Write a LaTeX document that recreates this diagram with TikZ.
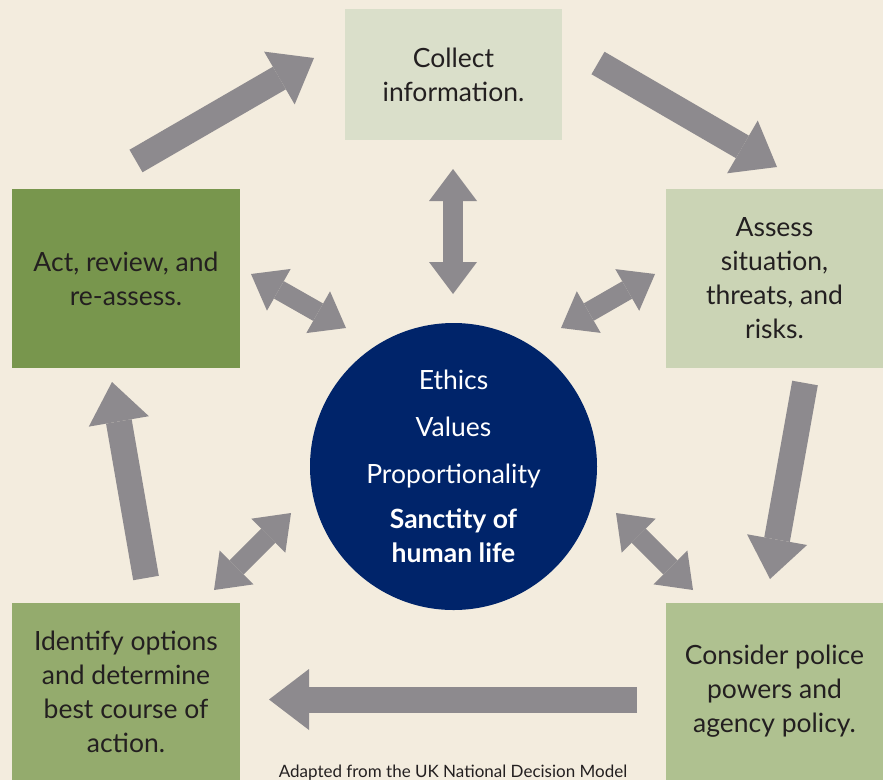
\documentclass[tikz,border=0pt]{standalone}
\usepackage{fontspec}
\setmainfont{Lato}
\usepackage{xcolor}
\usepackage{tikz}
\usetikzlibrary{arrows.meta}

\definecolor{paper}{HTML}{F3ECDE}
\definecolor{ink}{HTML}{231F20}
\definecolor{navy}{HTML}{00246A}
\definecolor{arrowgrey}{HTML}{8D8A8E}
\definecolor{collectgreen}{HTML}{DADFCA}
\definecolor{assessgreen}{HTML}{CBD4B5}
\definecolor{considergreen}{HTML}{AFC190}
\definecolor{identifygreen}{HTML}{94AB6D}
\definecolor{actgreen}{HTML}{78964D}

\begin{document}
\begin{tikzpicture}[x=1pt,y=-1pt,
    stage/.style={rectangle,inner sep=0pt,align=center,text=ink,
      font=\fontsize{26.5}{34}\selectfont},
    flow/.style={draw=arrowgrey,line width=26pt,
      -{Triangle[width=61pt,length=40pt,line width=0pt]}},
    link/.style={draw=arrowgrey,line width=20pt,
      {Triangle[width=48pt,length=32pt,line width=0pt]}-{Triangle[width=48pt,length=32pt,line width=0pt]}}]
  \path[use as bounding box,fill=paper] (0,0) rectangle (883,780);

  % the five steps
  \node[stage,fill=collectgreen,minimum width=217pt,minimum height=131pt] (collect) at (453.5,74.5) {Collect\\information.};
  \node[stage,fill=assessgreen,minimum width=217pt,minimum height=179pt] (assess) at (774.5,278.5) {Assess\\situation,\\threats, and\\risks.};
  \node[stage,fill=considergreen,minimum width=217pt,minimum height=177pt] (consider) at (774.5,691.5) {Consider police\\powers and\\agency policy.};
  \node[stage,fill=identifygreen,minimum width=228pt,minimum height=177pt] (identify) at (126,691.5) {Identify options\\and determine\\best course of\\action.};
  \node[stage,fill=actgreen,minimum width=228pt,minimum height=179pt] (act) at (126,278.5) {Act, review, and\\re-assess.};

  % core in the middle
  \node[circle,fill=navy,minimum size=287pt,inner sep=0pt] (core) at (453.5,466.5) {};
  \node[text=white,align=center,font=\fontsize{26.5}{34}\selectfont] (values) at (453.5,466.5)
    {Ethics\\[13pt] Values\\[13pt] Proportionality\\[11pt] \textbf{Sanctity of}\\ \textbf{human life}};

  % ends of the arrows
  \coordinate (f1a) at (136,161);   \coordinate (f1b) at (314,58);
  \coordinate (f2a) at (598,63);    \coordinate (f2b) at (777,167);
  \coordinate (f3a) at (805,383);   \coordinate (f3b) at (770,579);
  \coordinate (f4a) at (637,699.5); \coordinate (f4b) at (269,699.5);
  \coordinate (f5a) at (146,578);   \coordinate (f5b) at (112,382);
  \coordinate (l1a) at (453,169);   \coordinate (l1b) at (453,294);
  \coordinate (l2a) at (655,274);   \coordinate (l2b) at (561,328);
  \coordinate (l3a) at (251,274);   \coordinate (l3b) at (346,328);
  \coordinate (l4a) at (214,590);   \coordinate (l4b) at (291,513);
  \coordinate (l5a) at (693,590);   \coordinate (l5b) at (616,513);

  \draw[flow] (f1a) -- (f1b);  % act -> collect
  \draw[flow] (f2a) -- (f2b);  % collect -> assess
  \draw[flow] (f3a) -- (f3b);  % assess -> consider
  \draw[flow] (f4a) -- (f4b);  % consider -> identify
  \draw[flow] (f5a) -- (f5b);  % identify -> act
  \draw[link] (l1a) -- (l1b);
  \draw[link] (l2a) -- (l2b);
  \draw[link] (l3a) -- (l3b);
  \draw[link] (l4a) -- (l4b);
  \draw[link] (l5a) -- (l5b);

  \node[text=ink,font=\fontsize{17}{20}\selectfont,anchor=base] (source) at (453,777)
    {Adapted from the UK National Decision Model};
\end{tikzpicture}
\end{document}
